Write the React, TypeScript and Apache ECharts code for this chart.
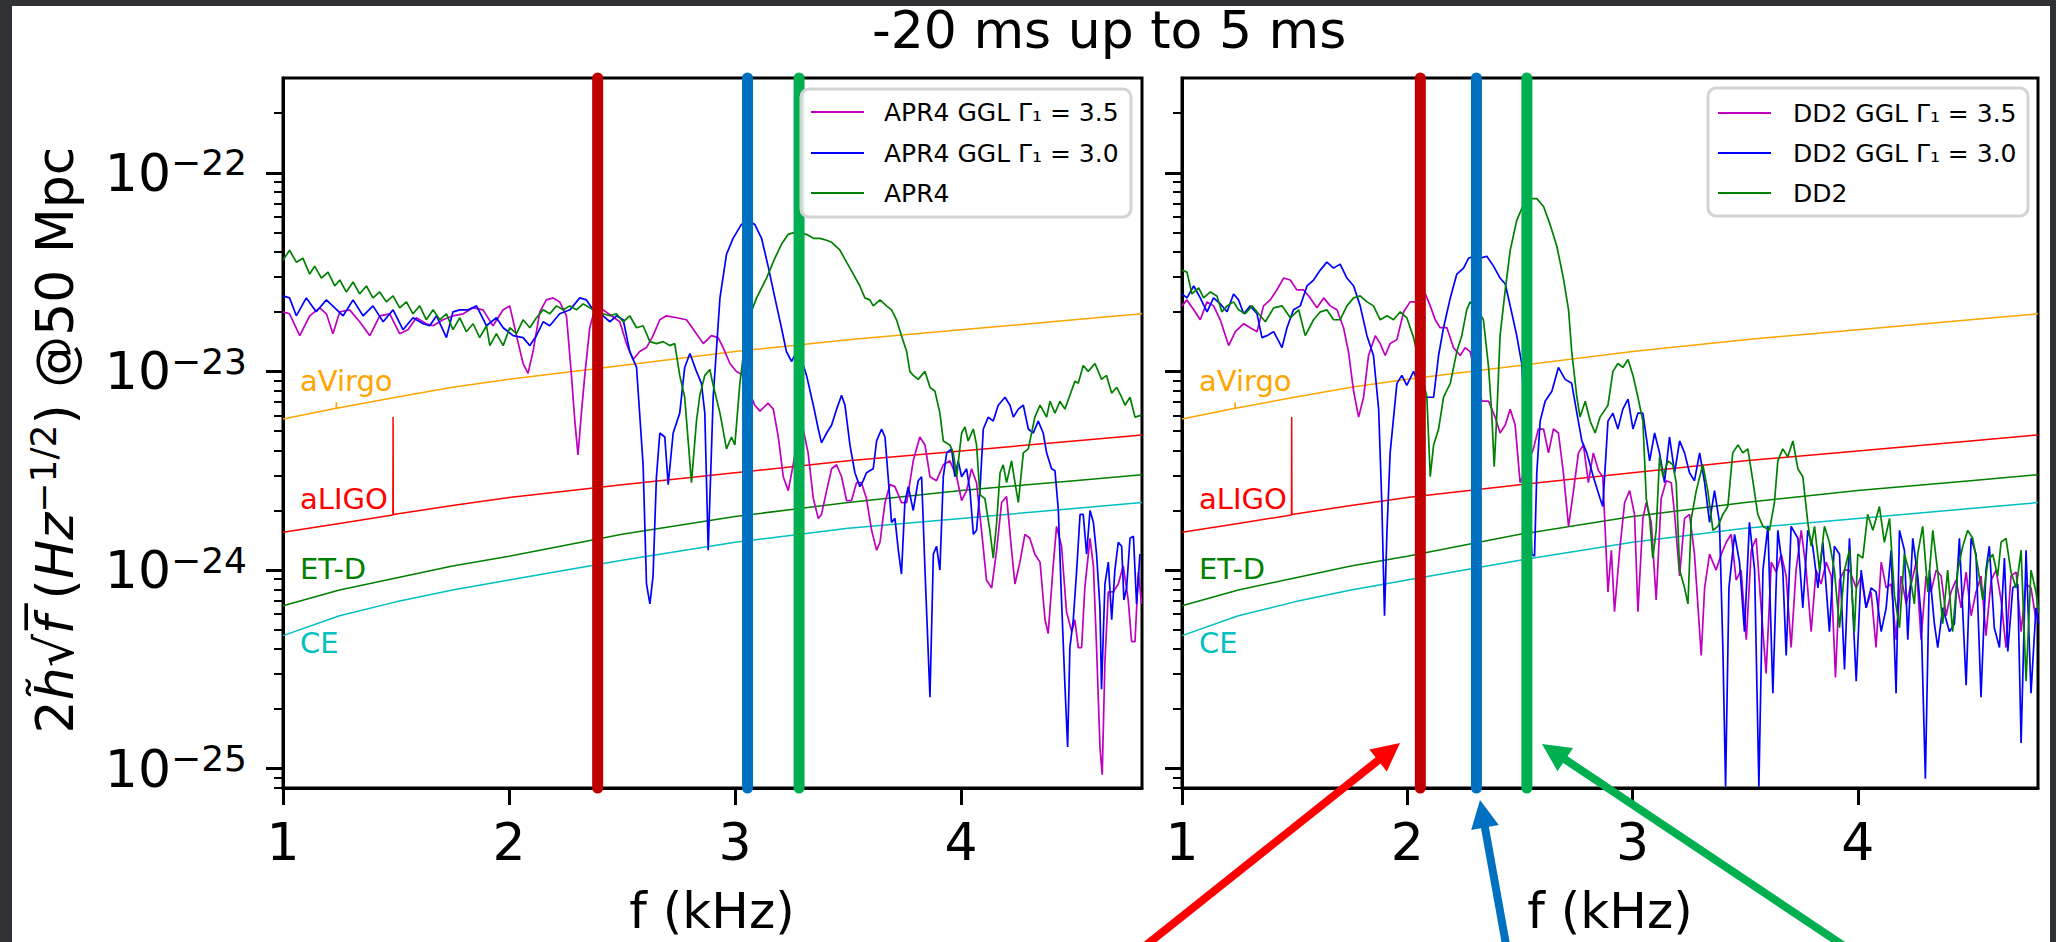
import React, { useEffect, useRef } from 'react';
import * as echarts from 'echarts';

const FONT = 'DejaVu Sans';

// axis ranges and ticks (x in kHz, y as log10 of strain amplitude)
const xRange = [1, 4.8];
const xTicks = [1, 2, 3, 4];
const yRange = [-25.097, -21.523];
const yMajor = [-25, -24, -23, -22];
const yMinorMantissa = [2, 3, 4, 5, 6, 7, 8, 9];

// vertical marker frequencies (kHz)
const apr4Markers = [2.392, 3.055, 3.283];
const dd2Markers = [2.058, 2.307, 2.531];
const markerColors = ['#C00000', '#0070C0', '#00B050'];

// detector sensitivity curves [f kHz, log10]
const aVirgo = [[1.0,-23.24],[1.235,-23.185],[1.236,-23.155],[1.237,-23.185],[1.5,-23.13],[1.75,-23.08],[2.0,-23.04],[2.5,-22.97],[3.0,-22.90],[3.5,-22.84],[4.0,-22.79],[4.5,-22.74],[4.8,-22.71]];
const aLIGO = [[1.0,-23.81],[1.25,-23.765],[1.486,-23.723],[1.487,-23.23],[1.488,-23.72],[1.75,-23.675],[2.0,-23.635],[2.5,-23.57],[3.0,-23.51],[3.5,-23.45],[4.0,-23.40],[4.5,-23.35],[4.8,-23.32]];
const etD = [[1.0,-24.18],[1.25,-24.10],[1.5,-24.04],[1.75,-23.98],[2.0,-23.93],[2.5,-23.82],[3.0,-23.73],[3.5,-23.66],[4.0,-23.60],[4.5,-23.55],[4.8,-23.52]];
const ce = [[1.0,-24.33],[1.25,-24.23],[1.5,-24.16],[1.75,-24.10],[2.0,-24.05],[2.5,-23.95],[3.0,-23.86],[3.5,-23.79],[4.0,-23.74],[4.5,-23.69],[4.8,-23.66]];

// APR4 panel
const apr4Soft = [[1.000,-22.70],[1.029,-22.71],[1.074,-22.82],[1.118,-22.72],[1.162,-22.68],[1.192,-22.71],[1.221,-22.81],[1.251,-22.70],[1.295,-22.69],[1.339,-22.75],[1.384,-22.82],[1.428,-22.72],[1.472,-22.71],[1.516,-22.81],[1.553,-22.79],[1.590,-22.73],[1.634,-22.76],[1.664,-22.77],[1.708,-22.74],[1.752,-22.72],[1.797,-22.71],[1.841,-22.68],[1.885,-22.69],[1.929,-22.77],[1.974,-22.69],[2.003,-22.67],[2.033,-22.82],[2.062,-22.96],[2.084,-23.01],[2.106,-22.90],[2.136,-22.70],[2.165,-22.64],[2.195,-22.63],[2.224,-22.65],[2.254,-22.72],[2.276,-23.02],[2.291,-23.25],[2.305,-23.42],[2.320,-23.21],[2.335,-23.02],[2.357,-22.78],[2.379,-22.69],[2.416,-22.69],[2.453,-22.72],[2.490,-22.75],[2.519,-22.86],[2.549,-22.94],[2.578,-22.90],[2.608,-22.88],[2.637,-22.82],[2.667,-22.74],[2.696,-22.72],[2.741,-22.73],[2.785,-22.74],[2.829,-22.81],[2.859,-22.86],[2.895,-22.82],[2.925,-22.83],[2.947,-22.88],[2.977,-22.96],[3.006,-23.00],[3.036,-23.02],[3.065,-23.11],[3.087,-23.17],[3.110,-23.20],[3.146,-23.16],[3.169,-23.19],[3.191,-23.33],[3.213,-23.53],[3.235,-23.60],[3.257,-23.47],[3.279,-23.31],[3.301,-23.29],[3.323,-23.41],[3.346,-23.64],[3.368,-23.74],[3.382,-23.72],[3.405,-23.60],[3.427,-23.49],[3.449,-23.47],[3.471,-23.53],[3.493,-23.65],[3.515,-23.65],[3.537,-23.56],[3.559,-23.56],[3.581,-23.64],[3.604,-23.80],[3.626,-23.90],[3.641,-23.86],[3.663,-23.66],[3.685,-23.57],[3.707,-23.58],[3.736,-23.66],[3.759,-23.66],[3.788,-23.45],[3.817,-23.33],[3.840,-23.37],[3.862,-23.53],[3.891,-23.55],[3.921,-23.47],[3.950,-23.45],[3.980,-23.53],[4.002,-23.65],[4.024,-23.60],[4.046,-23.49],[4.068,-23.56],[4.090,-23.80],[4.112,-24.05],[4.135,-24.09],[4.157,-23.90],[4.179,-23.66],[4.201,-23.63],[4.223,-23.90],[4.238,-24.07],[4.260,-23.96],[4.282,-23.82],[4.304,-23.84],[4.326,-23.92],[4.349,-23.96],[4.371,-24.25],[4.385,-24.32],[4.407,-23.98],[4.422,-23.78],[4.444,-23.88],[4.466,-24.21],[4.489,-24.31],[4.503,-24.25],[4.518,-24.39],[4.533,-24.39],[4.547,-24.09],[4.570,-23.84],[4.585,-23.98],[4.599,-24.39],[4.614,-24.89],[4.624,-25.03],[4.636,-24.46],[4.651,-24.11],[4.673,-24.11],[4.695,-24.07],[4.717,-23.98],[4.739,-24.15],[4.754,-24.36],[4.769,-24.36],[4.784,-24.01],[4.798,-24.17]];

const apr4Stiff = [[1.000,-22.62],[1.029,-22.63],[1.059,-22.72],[1.103,-22.63],[1.147,-22.70],[1.192,-22.64],[1.229,-22.68],[1.266,-22.72],[1.310,-22.64],[1.354,-22.72],[1.398,-22.67],[1.443,-22.75],[1.487,-22.69],[1.531,-22.79],[1.575,-22.73],[1.620,-22.76],[1.649,-22.77],[1.679,-22.72],[1.723,-22.83],[1.752,-22.70],[1.782,-22.69],[1.819,-22.69],[1.856,-22.67],[1.900,-22.77],[1.944,-22.73],[1.974,-22.78],[2.018,-22.82],[2.062,-22.83],[2.092,-22.87],[2.121,-22.82],[2.151,-22.75],[2.180,-22.77],[2.224,-22.71],[2.269,-22.69],[2.313,-22.63],[2.342,-22.64],[2.372,-22.69],[2.416,-22.72],[2.446,-22.75],[2.475,-22.72],[2.505,-22.74],[2.534,-22.90],[2.564,-22.98],[2.593,-23.47],[2.608,-24.07],[2.623,-24.17],[2.637,-24.03],[2.652,-23.53],[2.667,-23.31],[2.689,-23.33],[2.704,-23.57],[2.726,-23.31],[2.755,-23.21],[2.777,-22.98],[2.800,-22.91],[2.829,-23.00],[2.851,-23.06],[2.866,-23.21],[2.881,-23.90],[2.895,-23.41],[2.903,-23.13],[2.933,-22.63],[2.962,-22.41],[2.991,-22.33],[3.028,-22.26],[3.058,-22.24],[3.087,-22.26],[3.117,-22.33],[3.146,-22.47],[3.176,-22.63],[3.205,-22.78],[3.227,-22.90],[3.250,-22.95],[3.272,-22.90],[3.294,-22.94],[3.316,-23.02],[3.346,-23.17],[3.368,-23.29],[3.382,-23.36],[3.405,-23.31],[3.427,-23.27],[3.449,-23.19],[3.471,-23.12],[3.486,-23.17],[3.508,-23.37],[3.530,-23.51],[3.552,-23.58],[3.567,-23.55],[3.581,-23.51],[3.611,-23.49],[3.626,-23.35],[3.648,-23.29],[3.663,-23.33],[3.677,-23.53],[3.692,-23.76],[3.707,-23.74],[3.722,-23.90],[3.736,-24.02],[3.751,-23.66],[3.766,-23.58],[3.788,-23.70],[3.810,-23.55],[3.825,-23.53],[3.840,-24.00],[3.862,-24.64],[3.877,-23.92],[3.891,-23.88],[3.906,-24.00],[3.921,-23.53],[3.936,-23.41],[3.958,-23.39],[3.972,-23.53],[3.987,-23.45],[4.002,-23.53],[4.024,-23.49],[4.039,-23.60],[4.054,-23.82],[4.068,-23.80],[4.083,-23.60],[4.098,-23.29],[4.120,-23.23],[4.142,-23.25],[4.164,-23.17],[4.194,-23.13],[4.216,-23.17],[4.231,-23.23],[4.253,-23.19],[4.275,-23.17],[4.297,-23.29],[4.319,-23.31],[4.341,-23.25],[4.363,-23.31],[4.378,-23.41],[4.400,-23.49],[4.415,-23.50],[4.430,-23.70],[4.444,-24.15],[4.459,-24.58],[4.471,-24.89],[4.481,-24.39],[4.496,-24.25],[4.511,-24.00],[4.526,-23.72],[4.540,-23.72],[4.555,-23.92],[4.570,-23.70],[4.585,-23.76],[4.599,-23.92],[4.614,-24.19],[4.621,-24.60],[4.636,-24.07],[4.651,-23.96],[4.666,-24.25],[4.680,-24.00],[4.695,-23.86],[4.710,-23.88],[4.720,-24.15],[4.732,-24.09],[4.747,-23.84],[4.762,-23.83],[4.776,-24.17],[4.791,-23.92]];

const apr4 = [[1.000,-22.44],[1.029,-22.39],[1.059,-22.45],[1.088,-22.43],[1.118,-22.51],[1.140,-22.47],[1.170,-22.53],[1.199,-22.50],[1.229,-22.57],[1.251,-22.54],[1.280,-22.60],[1.310,-22.55],[1.339,-22.61],[1.369,-22.57],[1.398,-22.63],[1.428,-22.60],[1.457,-22.65],[1.487,-22.62],[1.516,-22.68],[1.546,-22.65],[1.575,-22.71],[1.605,-22.67],[1.634,-22.74],[1.664,-22.69],[1.693,-22.74],[1.723,-22.71],[1.752,-22.79],[1.782,-22.73],[1.811,-22.80],[1.841,-22.76],[1.870,-22.83],[1.900,-22.77],[1.915,-22.87],[1.944,-22.81],[1.974,-22.87],[2.003,-22.78],[2.033,-22.81],[2.062,-22.74],[2.092,-22.78],[2.121,-22.73],[2.151,-22.69],[2.180,-22.71],[2.210,-22.67],[2.239,-22.69],[2.269,-22.67],[2.298,-22.69],[2.328,-22.66],[2.372,-22.69],[2.416,-22.71],[2.446,-22.72],[2.475,-22.71],[2.505,-22.75],[2.534,-22.72],[2.564,-22.78],[2.593,-22.77],[2.623,-22.85],[2.652,-22.86],[2.682,-22.85],[2.711,-22.87],[2.733,-22.86],[2.755,-23.02],[2.777,-23.13],[2.807,-23.56],[2.829,-23.25],[2.844,-23.12],[2.866,-23.02],[2.888,-22.99],[2.903,-23.07],[2.933,-23.21],[2.962,-23.39],[2.984,-23.33],[2.999,-23.37],[3.021,-23.06],[3.043,-22.86],[3.065,-22.72],[3.095,-22.63],[3.139,-22.53],[3.176,-22.43],[3.205,-22.36],[3.235,-22.31],[3.264,-22.30],[3.316,-22.31],[3.346,-22.33],[3.375,-22.33],[3.405,-22.34],[3.427,-22.35],[3.464,-22.39],[3.493,-22.45],[3.523,-22.51],[3.552,-22.57],[3.574,-22.63],[3.596,-22.64],[3.611,-22.67],[3.641,-22.64],[3.670,-22.67],[3.692,-22.69],[3.714,-22.74],[3.736,-22.82],[3.759,-22.90],[3.773,-23.00],[3.788,-23.02],[3.810,-23.04],[3.840,-23.00],[3.862,-23.08],[3.884,-23.10],[3.906,-23.21],[3.921,-23.35],[3.950,-23.37],[3.965,-23.41],[3.980,-23.53],[4.002,-23.31],[4.017,-23.28],[4.031,-23.35],[4.054,-23.29],[4.068,-23.37],[4.083,-23.62],[4.105,-23.64],[4.127,-23.80],[4.142,-23.94],[4.157,-23.76],[4.172,-23.51],[4.186,-23.47],[4.201,-23.56],[4.223,-23.45],[4.238,-23.56],[4.253,-23.66],[4.275,-23.41],[4.297,-23.39],[4.326,-23.23],[4.349,-23.17],[4.378,-23.23],[4.393,-23.15],[4.415,-23.21],[4.437,-23.15],[4.459,-23.19],[4.481,-23.12],[4.503,-23.05],[4.518,-23.06],[4.540,-22.97],[4.562,-23.00],[4.592,-22.96],[4.621,-23.04],[4.643,-23.02],[4.666,-23.11],[4.688,-23.08],[4.710,-23.13],[4.725,-23.17],[4.747,-23.13],[4.769,-23.23],[4.798,-23.22]];

// DD2 panel
const dd2Soft = [[1.000,-22.67],[1.022,-22.64],[1.052,-22.69],[1.081,-22.74],[1.111,-22.65],[1.140,-22.67],[1.170,-22.74],[1.207,-22.87],[1.237,-22.80],[1.274,-22.76],[1.303,-22.78],[1.333,-22.80],[1.362,-22.67],[1.392,-22.64],[1.421,-22.59],[1.451,-22.53],[1.481,-22.54],[1.510,-22.59],[1.540,-22.59],[1.569,-22.63],[1.599,-22.68],[1.629,-22.63],[1.658,-22.67],[1.688,-22.69],[1.717,-22.78],[1.739,-22.90],[1.762,-23.10],[1.784,-23.23],[1.806,-23.13],[1.828,-22.92],[1.858,-22.82],[1.880,-22.86],[1.902,-22.92],[1.924,-22.86],[1.954,-22.84],[1.984,-22.70],[2.013,-22.65],[2.035,-22.65],[2.080,-22.61],[2.102,-22.67],[2.124,-22.74],[2.146,-22.78],[2.176,-22.78],[2.205,-22.88],[2.235,-22.92],[2.257,-22.88],[2.279,-22.90],[2.331,-23.15],[2.361,-23.15],[2.390,-23.23],[2.412,-23.31],[2.435,-23.27],[2.457,-23.19],[2.479,-23.27],[2.501,-23.56],[2.560,-23.39],[2.582,-23.29],[2.605,-23.29],[2.627,-23.41],[2.649,-23.29],[2.671,-23.31],[2.693,-23.51],[2.716,-23.78],[2.738,-23.60],[2.760,-23.41],[2.782,-23.37],[2.804,-23.56],[2.826,-23.41],[2.849,-23.50],[2.868,-23.53],[2.891,-24.11],[2.906,-23.90],[2.920,-24.21],[2.943,-23.90],[2.965,-23.66],[2.987,-23.60],[3.009,-23.72],[3.024,-24.21],[3.046,-23.74],[3.061,-23.66],[3.083,-23.76],[3.105,-24.15],[3.127,-23.64],[3.150,-23.55],[3.172,-23.56],[3.187,-23.72],[3.209,-24.03],[3.231,-23.74],[3.253,-23.72],[3.275,-23.92],[3.305,-24.43],[3.320,-24.09],[3.342,-23.92],[3.371,-24.00],[3.394,-23.92],[3.416,-23.86],[3.438,-23.82],[3.460,-24.05],[3.482,-24.00],[3.505,-24.35],[3.527,-23.90],[3.549,-23.84],[3.571,-24.19],[3.593,-24.52],[3.616,-23.96],[3.638,-24.01],[3.660,-23.92],[3.682,-24.03],[3.704,-24.39],[3.726,-24.00],[3.749,-23.80],[3.771,-24.00],[3.793,-24.31],[3.815,-24.00],[3.837,-24.07],[3.860,-23.96],[3.882,-24.03],[3.901,-24.54],[3.919,-24.05],[3.941,-24.00],[3.963,-24.00],[3.993,-24.09],[4.015,-24.03],[4.037,-24.19],[4.059,-24.11],[4.081,-24.39],[4.104,-23.96],[4.126,-24.09],[4.148,-24.07],[4.170,-24.35],[4.192,-24.03],[4.215,-24.17],[4.237,-24.07],[4.259,-23.96],[4.281,-24.35],[4.303,-24.03],[4.325,-24.11],[4.348,-24.00],[4.370,-24.03],[4.392,-24.23],[4.414,-24.11],[4.436,-24.05],[4.459,-24.19],[4.481,-24.01],[4.503,-24.23],[4.525,-24.11],[4.547,-24.03],[4.569,-24.33],[4.592,-24.05],[4.614,-24.00],[4.636,-24.15],[4.658,-24.39],[4.680,-24.03],[4.703,-24.01],[4.725,-24.31],[4.747,-24.07],[4.769,-24.09],[4.791,-24.25],[4.803,-24.19]];

const dd2Stiff = [[1.000,-22.61],[1.022,-22.63],[1.052,-22.57],[1.081,-22.63],[1.111,-22.70],[1.140,-22.63],[1.170,-22.66],[1.200,-22.70],[1.229,-22.61],[1.251,-22.64],[1.274,-22.71],[1.303,-22.67],[1.333,-22.71],[1.355,-22.83],[1.377,-22.82],[1.407,-22.80],[1.444,-22.88],[1.466,-22.78],[1.495,-22.69],[1.525,-22.67],[1.555,-22.57],[1.584,-22.54],[1.614,-22.49],[1.643,-22.45],[1.673,-22.48],[1.702,-22.46],[1.732,-22.53],[1.762,-22.57],[1.791,-22.67],[1.821,-22.82],[1.850,-22.92],[1.873,-23.19],[1.887,-23.66],[1.899,-24.23],[1.910,-23.80],[1.924,-23.41],[1.954,-23.06],[1.976,-23.02],[1.998,-23.07],[2.028,-23.00],[2.072,-23.13],[2.102,-23.13],[2.117,-23.13],[2.139,-22.92],[2.161,-22.78],[2.191,-22.63],[2.220,-22.51],[2.250,-22.48],[2.272,-22.43],[2.294,-22.42],[2.324,-22.43],[2.353,-22.42],[2.383,-22.47],[2.412,-22.53],[2.435,-22.56],[2.457,-22.67],[2.486,-22.82],[2.508,-22.96],[2.531,-23.41],[2.553,-23.92],[2.565,-23.93],[2.575,-23.51],[2.590,-23.25],[2.612,-23.15],[2.642,-23.10],[2.671,-22.98],[2.701,-23.04],[2.730,-23.06],[2.753,-23.21],[2.775,-23.35],[2.797,-23.41],[2.826,-23.53],[2.856,-23.64],[2.868,-23.68],[2.891,-23.25],[2.913,-23.21],[2.935,-23.29],[2.957,-23.19],[2.980,-23.14],[3.002,-23.29],[3.024,-23.21],[3.046,-23.21],[3.076,-23.45],[3.098,-23.31],[3.120,-23.41],[3.142,-23.56],[3.164,-23.33],[3.187,-23.51],[3.209,-23.35],[3.231,-23.41],[3.253,-23.51],[3.275,-23.55],[3.298,-23.41],[3.320,-23.56],[3.342,-23.76],[3.364,-23.60],[3.386,-23.76],[3.401,-24.39],[3.413,-25.09],[3.428,-24.09],[3.453,-23.82],[3.475,-23.96],[3.497,-24.31],[3.519,-23.76],[3.542,-24.00],[3.561,-25.09],[3.579,-24.00],[3.601,-23.78],[3.623,-24.62],[3.645,-23.80],[3.667,-24.00],[3.682,-24.43],[3.704,-23.78],[3.734,-23.84],[3.756,-24.19],[3.778,-23.80],[3.800,-23.88],[3.823,-24.09],[3.845,-23.86],[3.874,-24.31],[3.896,-23.88],[3.919,-23.92],[3.941,-24.50],[3.963,-23.84],[3.993,-24.56],[4.015,-24.00],[4.037,-24.19],[4.059,-24.09],[4.081,-24.11],[4.104,-24.31],[4.126,-24.19],[4.148,-23.90],[4.170,-24.62],[4.185,-23.80],[4.207,-23.90],[4.222,-24.35],[4.244,-23.84],[4.266,-24.03],[4.281,-24.23],[4.300,-25.05],[4.318,-24.00],[4.340,-24.27],[4.355,-24.39],[4.377,-24.19],[4.407,-24.31],[4.429,-24.27],[4.451,-23.84],[4.481,-24.58],[4.503,-23.84],[4.525,-23.92],[4.547,-24.64],[4.569,-24.00],[4.584,-23.88],[4.606,-24.29],[4.629,-24.39],[4.651,-23.94],[4.666,-24.41],[4.688,-24.09],[4.710,-24.07],[4.725,-24.87],[4.747,-23.90],[4.769,-24.62],[4.791,-24.19],[4.803,-24.27]];

const dd2 = [[1.000,-22.49],[1.022,-22.50],[1.044,-22.61],[1.074,-22.58],[1.096,-22.63],[1.126,-22.60],[1.155,-22.62],[1.177,-22.70],[1.200,-22.67],[1.229,-22.65],[1.251,-22.69],[1.281,-22.71],[1.311,-22.67],[1.340,-22.71],[1.370,-22.75],[1.407,-22.68],[1.444,-22.67],[1.481,-22.73],[1.518,-22.69],[1.547,-22.82],[1.584,-22.74],[1.614,-22.70],[1.643,-22.69],[1.673,-22.74],[1.702,-22.74],[1.732,-22.67],[1.762,-22.63],[1.791,-22.62],[1.821,-22.65],[1.850,-22.67],[1.880,-22.74],[1.910,-22.72],[1.939,-22.74],[1.969,-22.70],[1.998,-22.73],[2.028,-22.83],[2.087,-23.13],[2.102,-23.53],[2.117,-23.37],[2.139,-23.29],[2.161,-23.13],[2.191,-23.06],[2.220,-22.90],[2.242,-22.82],[2.264,-22.69],[2.279,-22.65],[2.301,-22.67],[2.338,-22.74],[2.361,-22.98],[2.375,-23.21],[2.386,-23.48],[2.398,-23.21],[2.412,-22.82],[2.435,-22.59],[2.457,-22.39],[2.486,-22.24],[2.516,-22.16],[2.546,-22.13],[2.575,-22.13],[2.605,-22.17],[2.634,-22.26],[2.664,-22.37],[2.693,-22.53],[2.716,-22.69],[2.730,-22.90],[2.753,-23.13],[2.767,-23.23],[2.790,-23.15],[2.812,-23.25],[2.834,-23.31],[2.856,-23.23],[2.891,-23.17],[2.913,-23.00],[2.935,-22.96],[2.957,-22.98],[2.980,-22.94],[3.002,-23.02],[3.024,-23.13],[3.046,-23.25],[3.061,-23.64],[3.076,-23.74],[3.090,-23.94],[3.105,-23.80],[3.120,-23.43],[3.135,-23.53],[3.157,-23.45],[3.179,-23.47],[3.194,-23.56],[3.209,-24.00],[3.231,-24.09],[3.246,-24.17],[3.261,-23.74],[3.283,-23.60],[3.312,-23.47],[3.334,-23.60],[3.357,-23.80],[3.379,-23.78],[3.401,-23.72],[3.423,-23.68],[3.445,-23.41],[3.468,-23.37],[3.490,-23.41],[3.512,-23.39],[3.534,-23.55],[3.556,-23.72],[3.579,-23.78],[3.608,-23.80],[3.630,-23.66],[3.645,-23.45],[3.667,-23.39],[3.689,-23.43],[3.712,-23.35],[3.734,-23.49],[3.756,-23.53],[3.778,-23.76],[3.793,-23.88],[3.808,-23.78],[3.830,-24.00],[3.852,-23.78],[3.874,-23.86],[3.896,-24.00],[3.919,-24.29],[3.941,-24.00],[3.963,-23.90],[3.985,-24.31],[4.000,-23.92],[4.022,-23.94],[4.044,-23.72],[4.067,-23.80],[4.096,-23.68],[4.118,-23.86],[4.141,-23.74],[4.163,-24.13],[4.185,-24.29],[4.207,-23.92],[4.229,-24.01],[4.251,-24.17],[4.266,-23.92],[4.288,-23.78],[4.311,-24.11],[4.333,-23.80],[4.355,-24.01],[4.377,-24.27],[4.399,-24.00],[4.421,-24.31],[4.444,-24.00],[4.466,-23.88],[4.488,-23.80],[4.510,-23.84],[4.532,-23.98],[4.555,-24.15],[4.577,-23.96],[4.599,-23.92],[4.621,-24.03],[4.636,-23.86],[4.658,-23.84],[4.680,-24.01],[4.703,-24.09],[4.725,-23.90],[4.747,-24.56],[4.769,-24.00],[4.791,-24.11],[4.803,-24.21]];

const legendApr4 = ['APR4 GGL Γ₁ = 3.5', 'APR4 GGL Γ₁ = 3.0', 'APR4'];
const legendDd2 = ['DD2 GGL Γ₁ = 3.5', 'DD2 GGL Γ₁ = 3.0', 'DD2'];
const seriesColors = ['#BF00BF', '#0000FF', '#008000'];
const detectorNames = ['aVirgo', 'aLIGO', 'ET-D', 'CE'];
const detectorColors = ['#FFA500', '#FF0000', '#008000', '#00BFBF'];

function yMinorValues(): number[] {
  const out: number[] = [];
  for (let n = -26; n <= -22; n++) {
    for (const k of yMinorMantissa) {
      const v = n + Math.log10(k);
      if (v >= yRange[0] - 1e-6 && v <= yRange[1] + 1e-6) out.push(v);
    }
  }
  return out;
}

function lineSeries(name: string, data: number[][], color: string, xi: number, yi: number, width = 1.7, z = 2) {
  return {
    type: 'line', name, data, xAxisIndex: xi, yAxisIndex: yi,
    showSymbol: false, symbol: 'none', silent: true, z,
    lineStyle: { color, width }, itemStyle: { color },
  };
}

function markerSeries(f: number, color: string, xi: number, yi: number) {
  return {
    type: 'line', name: 'marker ' + f, data: [[f, yRange[0]], [f, yRange[1]]],
    xAxisIndex: xi, yAxisIndex: yi, showSymbol: false, symbol: 'none', silent: true,
    clip: false, z: 6, lineStyle: { color, width: 11, cap: 'round' },
  };
}

function arrow(x1: number, y1: number, x2: number, y2: number, color: string) {
  const dx = x2 - x1, dy = y2 - y1, L = Math.hypot(dx, dy);
  const ux = dx / L, uy = dy / L, nx = -uy, ny = ux;
  const hl = 28, hw = 14;
  const bx = x2 - ux * hl, by = y2 - uy * hl;
  return [
    { type: 'line', z: 100, shape: { x1, y1, x2: bx + ux * 3, y2: by + uy * 3 }, style: { stroke: color, lineWidth: 8 } },
    { type: 'polygon', z: 100, shape: { points: [[x2, y2], [bx + nx * hw, by + ny * hw], [bx - nx * hw, by - ny * hw]] }, style: { fill: color } },
  ];
}

function legendBox(x: number, y: number, w: number, names: string[], lineX: number, textX: number, rows: number[]) {
  const els: any[] = [
    { type: 'rect', z: 90, shape: { x, y, width: w, height: 128, r: 8 }, style: { fill: 'rgba(255,255,255,0.85)', stroke: '#d3d3d3', lineWidth: 3 } },
  ];
  names.forEach((n, i) => {
    els.push({ type: 'line', z: 91, shape: { x1: lineX, y1: rows[i], x2: lineX + 53, y2: rows[i] }, style: { stroke: seriesColors[i], lineWidth: 1.8 } });
    els.push({ type: 'text', z: 91, x: textX, y: rows[i], style: { text: n, fill: '#000', fontSize: 25, fontFamily: FONT, align: 'left', verticalAlign: 'middle', textAlign: 'left', textVerticalAlign: 'middle' } });
  });
  return els;
}

function textEl(text: string, x: number, y: number, fontSize: number, color: string, align = 'left') {
  return { type: 'text', z: 100, x, y, style: { text, fill: color, fontSize, fontFamily: FONT, align, verticalAlign: 'middle', textAlign: align, textVerticalAlign: 'middle' } };
}

const App: React.FC = () => {
  const ref = useRef<HTMLDivElement>(null);
  useEffect(() => {
    if (!ref.current) return;
    const chart = echarts.init(ref.current, undefined, { renderer: 'svg' });
    const yMinor = yMinorValues();
    const grids = [
      { left: 283, top: 78, width: 859, height: 710 },
      { left: 1182, top: 78, width: 856, height: 710 },
    ];
    const xAxes = grids.map((_, gi) => ({
      type: 'value', gridIndex: gi, min: xRange[0], max: xRange[1], position: 'bottom',
      axisLine: { show: true, onZero: false, lineStyle: { color: '#000', width: 3 } },
      axisTick: { show: true, customValues: xTicks, length: 17, lineStyle: { color: '#000', width: 3 } },
      axisLabel: { show: true, customValues: xTicks, fontSize: 52, lineHeight: 52, margin: 28, color: '#000', fontFamily: FONT },
      splitLine: { show: false },
    }));
    const yAxes: any[] = [];
    grids.forEach((_, gi) => {
      yAxes.push({
        type: 'value', gridIndex: gi, position: 'left', min: yRange[0], max: yRange[1],
        axisLine: { show: true, onZero: false, lineStyle: { color: '#000', width: 3 } },
        axisTick: { show: true, customValues: yMajor, length: 17, lineStyle: { color: '#000', width: 3 } },
        axisLabel: {
          show: gi === 0, customValues: yMajor, margin: 36,
          formatter: (v: number) => `{b|10}{s|\u2212${Math.round(-v)}}`,
          rich: {
            b: { fontSize: 52, lineHeight: 56, fontFamily: FONT, color: '#000' },
            s: { fontSize: 36, lineHeight: 36, fontFamily: FONT, color: '#000', verticalAlign: 'top' },
          },
        },
        splitLine: { show: false },
      });
      yAxes.push({
        type: 'value', gridIndex: gi, position: 'left', min: yRange[0], max: yRange[1],
        axisLine: { show: false },
        axisTick: { show: true, customValues: yMinor, length: 9, lineStyle: { color: '#000', width: 2 } },
        axisLabel: { show: false },
        splitLine: { show: false },
      });
    });

    const detectors = [aVirgo, aLIGO, etD, ce];
    const series: any[] = [];
    [[apr4Soft, apr4Stiff, apr4, legendApr4, apr4Markers], [dd2Soft, dd2Stiff, dd2, legendDd2, dd2Markers]].forEach((panel: any, gi) => {
      const yi = gi * 2;
      detectors.forEach((d, di) => series.push(lineSeries(detectorNames[di] + (gi ? ' (DD2)' : ''), d, detectorColors[di], gi, yi, 1.5, 2)));
      [0, 1, 2].forEach((si) => series.push(lineSeries(panel[3][si], panel[si], seriesColors[si], gi, yi, 1.7, 3)));
      panel[4].forEach((m: number, mi: number) => series.push(markerSeries(m, markerColors[mi], gi, yi)));
    });

    const labelRows = [381, 499, 569, 643];
    const graphics: any[] = [
      { type: 'rect', z: 100, shape: { x: 0, y: 0, width: 2056, height: 6 }, style: { fill: '#2f3135' } },
      { type: 'rect', z: 100, shape: { x: 0, y: 0, width: 12, height: 942 }, style: { fill: '#2f3135' } },
      { type: 'rect', z: 100, shape: { x: 2050, y: 0, width: 6, height: 942 }, style: { fill: '#2f3135' } },
      textEl('-20 ms up to 5 ms', 872, 30, 52, '#000', 'left'),
      textEl('f (kHz)', 712, 911, 50, '#000', 'center'),
      textEl('f (kHz)', 1610, 911, 50, '#000', 'center'),
      {
        type: 'text', z: 100, x: 55, y: 440, rotation: Math.PI / 2,
        style: {
          text: '{n|2}{i|h\u0303}{n|\u221A}{i|f\u0305}{n| (}{i|Hz}{s|\u22121/2}{n|) @50 Mpc}',
          align: 'center', verticalAlign: 'middle', textAlign: 'center', textVerticalAlign: 'middle',
          fontSize: 52, fontFamily: FONT, fill: '#000',
          rich: {
            n: { fontSize: 52, lineHeight: 60, fontFamily: FONT, fill: '#000', color: '#000' },
            i: { fontSize: 52, lineHeight: 60, fontFamily: FONT, fontStyle: 'italic', fill: '#000', color: '#000' },
            s: { fontSize: 36, lineHeight: 36, fontFamily: FONT, fill: '#000', color: '#000', verticalAlign: 'top' },
          },
        },
      },
      ...legendBox(801, 89, 330, legendApr4, 811, 884, [112, 153, 193]),
      ...legendBox(1708, 88, 320, legendDd2, 1718, 1793, [113, 153, 193]),
      ...arrow(1140, 950, 1400, 743, '#FF0000'),
      ...arrow(1507, 950, 1480, 800, '#0070C0'),
      ...arrow(1850, 950, 1542, 744, '#00B050'),
    ];
    [300, 1199].forEach((lx) => {
      detectorNames.forEach((n, i) => graphics.push(textEl(n, lx, labelRows[i], 29, detectorColors[i], 'left')));
    });

    chart.setOption({
      animation: false,
      backgroundColor: '#ffffff',
      textStyle: { fontFamily: FONT },
      grid: grids.map((g) => ({ ...g, show: true, borderColor: '#000', borderWidth: 3, backgroundColor: 'rgba(0,0,0,0)', containLabel: false })),
      xAxis: xAxes,
      yAxis: yAxes,
      series,
      graphic: { elements: graphics },
    });
    return () => chart.dispose();
  }, []);
  return <div ref={ref} style={{ position: 'fixed', left: 0, top: 0, width: 2056, height: 942 }} />;
};

export default App;
